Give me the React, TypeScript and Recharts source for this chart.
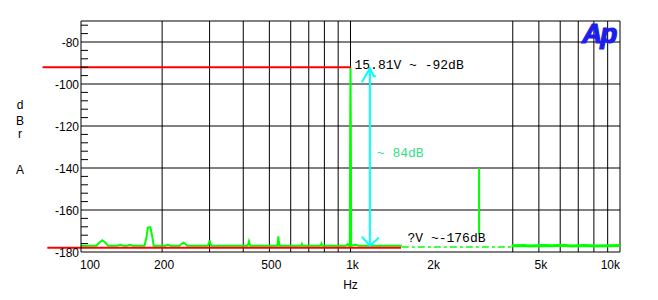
import React from "react";
import {
  ComposedChart,
  Line,
  XAxis,
  YAxis,
  CartesianGrid,
  ReferenceLine,
  ReferenceDot,
} from "recharts";

// spectrum, 100 Hz .. 1.55 kHz (solid trace incl. the 1 kHz tone)
const spectrumFreqs = [
  100, 114, 117, 120, 123, 126, 136, 140, 144, 148, 152, 156, 172, 175, 177, 181,
  184, 186, 205, 210, 215, 232, 237, 240, 243, 248, 295, 298, 300, 302, 305, 415,
  418, 420, 422, 425, 535, 538, 540, 542, 545, 655, 658, 660, 662, 665, 772, 777,
  780, 783, 788, 960, 975, 985, 994, 997, 1000, 1003, 1006, 1040, 1080, 1200, 1550,
];
const spectrumDb = [
  -177, -177, -175.5, -174.4, -175.5, -177, -177, -176.6, -177, -177, -176.6, -177,
  -177, -173, -168.4, -168.2, -173, -177, -177, -176.6, -177, -177, -176, -175.6,
  -176, -177, -177, -176, -174.5, -176, -177, -177, -176, -175, -176, -177, -177,
  -175, -172.6, -175, -177, -177, -176.8, -176.3, -176.8, -177, -177, -176.6, -176,
  -176.6, -177, -177, -176.2, -177, -177, -125, -92, -125, -177, -176.6, -177, -177,
  -177,
];

// broken part of the floor under the "?V" label
const gapFreqs = [1550, 3960];
const gapDb = [-177.6, -177.6];

// high end of the floor
const hfFreqs = [3960, 4400, 4600, 5200, 5600, 6100, 6600, 7400, 8200, 9000, 10000];
const hfDb = [-177, -176.9, -177.1, -176.9, -177, -176.8, -177.1, -176.9, -177.1, -177, -176.9];

// 3 kHz harmonic
const h3Freqs = [3000, 3000];
const h3Db = [-171.6, -140];

// red markers
const topMarkFreqs = [72, 1000];
const topMarkDb = -92;
const floorMarkFreqs = [75, 1540];
const floorMarkDb = -178;

// cyan arrow
const arrowFreq = 1180;
const arrowDb = [-92.5, -177];

const xTicks = [100, 200, 500, 1000, 2000, 5000, 10000];
const xTickLabels = ["100", "200", "500", "1k", "2k", "5k", "10k"];
const yTicks = [
  -180, -176, -172, -168, -164, -160, -156, -152, -148, -144, -140, -136, -132, -128,
  -124, -120, -116, -112, -108, -104, -100, -96, -92, -88, -84, -80, -76, -72,
];
const yLabeled = [-180, -160, -140, -120, -100, -80];
const gridFreqs = [200, 300, 400, 500, 600, 700, 800, 900, 1000, 4000, 5000, 6000, 7000, 8000, 9000, 10000];
const gridDb = [-160, -140, -120, -100, -80, -70];

const notes = [
  { f: 1000, db: -92, text: "15.81V ~ -92dB", color: "#000", dx: 4, dy: 2 },
  { f: 1180, db: -135, text: "~ 84dB", color: "#33e088", dx: 7, dy: -1 },
  { f: 1600, db: -176, text: "?V ~-176dB", color: "#000", dx: 2, dy: -2 },
];

const toPoints = (xs: number[], ys: number[]) => xs.map((f, i) => ({ f, db: ys[i] }));

const SANS = "'Liberation Sans', Arial, sans-serif";
const MONO = "'Liberation Mono', 'Courier New', monospace";

const YTick = (props: any) => {
  const { x, y, payload } = props;
  if (yLabeled.includes(payload.value)) {
    return (
      <text x={x - 2} y={y + 5} textAnchor="end" fontSize={12} fontFamily={SANS} fill="#000">
        {payload.value}
      </text>
    );
  }
  return <line x1={x} x2={x + 7} y1={y} y2={y} stroke="#000" strokeWidth={1} />;
};

const XTick = (props: any) => {
  const { x, y, payload, index } = props;
  const label = xTickLabels[xTicks.indexOf(payload.value)] ?? String(payload.value);
  let anchor: "start" | "middle" | "end" = "middle";
  let dx = 2;
  if (index === 0) {
    anchor = "start";
    dx = -1;
  } else if (payload.value === 10000) {
    anchor = "end";
    dx = 0;
  }
  return (
    <text x={x + dx} y={y + 17} textAnchor={anchor} fontSize={12} fontFamily={SANS} fill="#000">
      {label}
    </text>
  );
};

const ArrowShape = (p: any) => {
  const x = p.x1;
  const top = Math.min(p.y1, p.y2);
  const bot = Math.max(p.y1, p.y2);
  return (
    <g stroke="#00ffff" strokeWidth={2} fill="none">
      <line x1={x} y1={top} x2={x} y2={bot} />
      <polyline points={`${x - 8},${top + 14} ${x},${top} ${x + 4},${top + 8} ${x + 6},${top + 8}`} />
      <polyline points={`${x - 8},${bot - 9} ${x},${bot} ${x + 9},${bot - 8}`} />
    </g>
  );
};

export default function App() {
  return (
    <div style={{ position: "relative", width: 650, height: 292, background: "#fff" }}>
      <ComposedChart width={650} height={292} margin={{ top: 13, right: 38, left: 0, bottom: 0 }}>
        <CartesianGrid
          stroke="#000"
          strokeWidth={1}
          verticalValues={gridFreqs}
          horizontalValues={gridDb}
        />
        <XAxis
          dataKey="f"
          type="number"
          scale="log"
          domain={[100, 10000]}
          allowDataOverflow
          ticks={xTicks}
          interval={0}
          tickLine={false}
          tickSize={0}
          tickMargin={0}
          height={48}
          axisLine={{ stroke: "#000" }}
          tick={<XTick />}
          label={(p: any) => {
            const vb = p.viewBox;
            return (
              <text x={vb.x + vb.width / 2} y={vb.y + 37} textAnchor="middle" fontSize={12} fontFamily={SANS} fill="#000">
                Hz
              </text>
            );
          }}
        />
        <YAxis
          dataKey="db"
          type="number"
          domain={[-180, -70]}
          allowDataOverflow
          ticks={yTicks}
          interval={0}
          width={73}
          tickLine={false}
          tickSize={0}
          tickMargin={0}
          axisLine={{ stroke: "#000" }}
          tick={<YTick />}
          label={(p: any) => {
            const top = p.viewBox.y;
            const letters = [
              ["d", 87.7],
              ["B", 104],
              ["r", 117.3],
              ["A", 152.7],
            ] as const;
            return (
              <g>
                {letters.map(([t, dy]) => (
                  <text key={t} x={12} y={top + dy} textAnchor="middle" fontSize={12} fontFamily={SANS} fill="#000">
                    {t}
                  </text>
                ))}
              </g>
            );
          }}
        />
        <Line
          data={toPoints(spectrumFreqs, spectrumDb)}
          dataKey="db"
          type="linear"
          stroke="#00ff00"
          strokeWidth={2}
          dot={false}
          isAnimationActive={false}
        />
        <Line
          data={toPoints(gapFreqs, gapDb)}
          dataKey="db"
          type="linear"
          stroke="#00ff00"
          strokeWidth={1.5}
          strokeDasharray="7 3 3 3"
          dot={false}
          isAnimationActive={false}
        />
        <Line
          data={toPoints(hfFreqs, hfDb)}
          dataKey="db"
          type="linear"
          stroke="#00ff00"
          strokeWidth={3}
          dot={false}
          isAnimationActive={false}
        />
        <Line
          data={toPoints(h3Freqs, h3Db)}
          dataKey="db"
          type="linear"
          stroke="#00ff00"
          strokeWidth={2}
          dot={false}
          isAnimationActive={false}
        />
        <ReferenceLine
          segment={[
            { x: topMarkFreqs[0], y: topMarkDb },
            { x: topMarkFreqs[1], y: topMarkDb },
          ]}
          stroke="#ff0000"
          strokeWidth={2}
          ifOverflow="visible"
        />
        <ReferenceLine
          segment={[
            { x: floorMarkFreqs[0], y: floorMarkDb },
            { x: floorMarkFreqs[1], y: floorMarkDb },
          ]}
          stroke="#ff0000"
          strokeWidth={2}
          ifOverflow="visible"
        />
        <ReferenceLine
          segment={[
            { x: arrowFreq, y: arrowDb[0] },
            { x: arrowFreq, y: arrowDb[1] },
          ]}
          ifOverflow="visible"
          shape={ArrowShape}
        />
        {notes.map((n) => (
          <ReferenceDot
            key={n.text}
            x={n.f}
            y={n.db}
            r={0}
            ifOverflow="visible"
            shape={(p: any) => (
              <text
                x={p.cx + n.dx}
                y={p.cy + n.dy}
                fontSize={13}
                fontFamily={MONO}
                fill={n.color}
                style={{ whiteSpace: "pre" }}
              >
                {n.text}
              </text>
            )}
          />
        ))}
      </ComposedChart>
      <div
        style={{
          position: "absolute",
          left: 574,
          top: 12,
          fontFamily: SANS,
          fontWeight: 700,
          fontStyle: "italic",
          fontSize: 28,
          lineHeight: "28px",
          letterSpacing: -2,
          color: "#1e1eea",
          WebkitTextStroke: "1.2px #1e1eea",
        }}
      >
        Ap
      </div>
    </div>
  );
}
